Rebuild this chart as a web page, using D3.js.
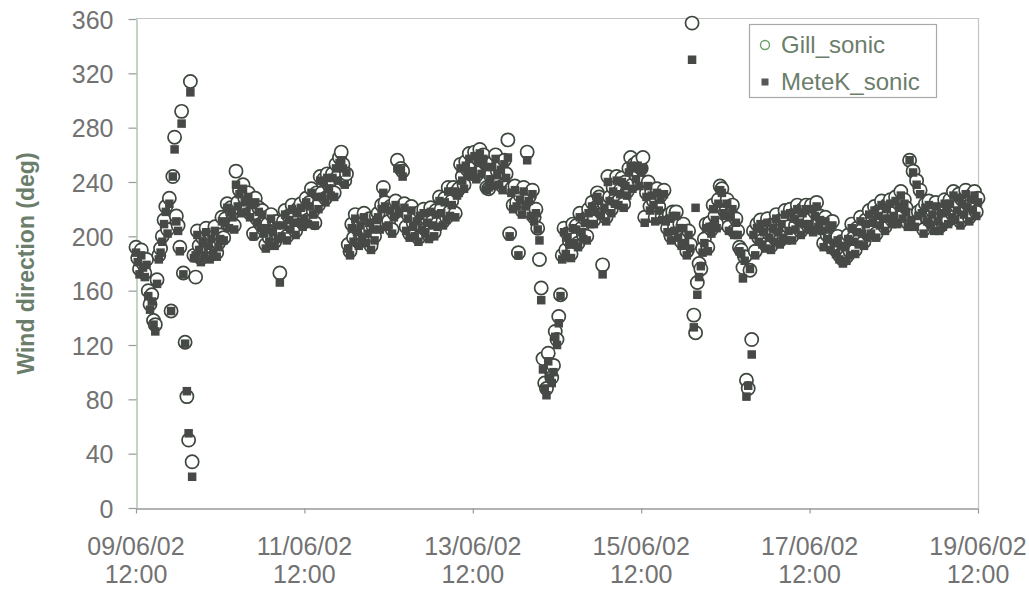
<!DOCTYPE html>
<html>
<head>
<meta charset="utf-8">
<script src="https://cdn.jsdelivr.net/npm/d3@7"></script>
<style>
  html, body { margin: 0; padding: 0; background: #fff; }
  svg { display: block; }
  text { font-family: "Liberation Sans", Arial, sans-serif; }
</style>
</head>
<body>
<svg id="chart" width="1029" height="589"></svg>
<script>
// Half-hourly wind direction from two sonic anemometers, 9-19 June 2002
const seriesNames = ["Gill_sonic", "MeteK_sonic"];
const startTime = "2002-06-09T12:00:00Z";
const stepMinutes = 30;

// one row per 12 hours (24 readings), last row closes at 19/06 12:00
const gillDir = [
  192,184,176,190,180,173,183,160,150,157,138,135,168,186,191,200,212,222,205,228,145,244,273,215,
  208,192,292,173,122,82,50,314,34,186,170,204,193,184,199,189,206,196,186,201,191,207,188,195,
  201,214,199,213,224,209,221,217,208,248,225,234,220,238,228,221,232,217,226,202,228,213,221,209,
  219,205,194,209,199,216,206,196,211,201,173,203,211,219,200,215,208,223,213,204,220,213,224,210,
  216,228,212,225,235,219,210,232,223,244,232,242,228,246,238,233,246,232,253,244,258,262,253,241,
  246,194,189,209,199,216,206,196,211,201,217,198,205,213,193,208,200,215,217,208,223,236,225,210,
  211,222,205,217,226,256,220,250,248,224,207,216,202,222,210,203,214,199,218,208,220,205,213,201,
  221,211,203,219,210,229,220,211,228,214,236,218,226,236,217,233,235,253,244,238,255,249,261,247,
  251,262,245,257,264,249,260,254,236,235,245,254,240,260,248,241,252,237,256,246,271,202,235,223,
  237,225,188,230,219,236,225,262,229,218,234,214,220,206,183,162,110,92,88,114,102,96,105,130,
  124,141,157,186,206,190,202,197,187,209,198,208,195,217,206,201,213,200,220,212,225,212,221,232,
  229,218,179,224,214,244,229,220,236,227,244,226,234,243,224,240,233,250,258,238,253,245,255,240,
  250,258,214,232,240,222,233,226,214,235,222,230,215,234,214,206,216,200,218,207,218,202,209,196,
  209,198,189,204,194,357,142,129,166,180,176,191,198,209,192,210,205,223,215,209,227,237,235,220,
  218,227,207,217,223,204,213,204,192,190,177,185,94,88,175,124,204,189,209,199,212,197,206,194,
  213,202,193,209,199,216,206,197,212,202,219,200,207,220,200,216,208,223,213,204,220,212,223,208,
  212,223,206,218,225,210,215,207,195,214,201,208,193,211,198,190,200,186,196,183,195,185,201,189,
  209,199,190,206,197,214,205,196,212,202,219,205,213,222,202,218,211,226,216,207,223,216,227,212,
  218,229,212,224,233,216,227,221,210,256,215,248,210,241,218,234,220,205,224,214,226,211,219,207,
  225,214,207,220,210,227,221,212,227,217,233,215,222,231,211,227,219,234,224,214,230,222,233,218,228
];

const metekDir = [
  188,181,172,186,177,170,179,156,146,152,135,130,165,183,188,196,209,218,202,224,145,244,264,211,
  204,189,283,172,121,86,55,306,23,184,186,201,190,181,196,186,203,193,183,198,188,204,185,192,
  198,211,197,210,221,206,218,214,205,238,222,231,217,235,225,218,229,214,223,200,225,210,218,206,
  216,202,191,206,196,213,203,193,208,198,166,200,208,216,197,212,205,220,210,201,217,210,221,207,
  213,225,209,222,232,216,208,229,220,241,229,239,225,243,235,230,243,229,250,241,254,256,250,238,
  247,191,186,206,196,213,203,193,208,198,214,195,202,210,190,205,197,212,214,205,220,232,222,207,
  208,219,202,214,223,250,217,249,244,221,204,213,199,219,207,200,211,196,215,205,217,202,210,198,
  218,208,200,216,207,226,217,208,225,212,233,215,223,233,214,230,232,250,241,235,252,246,257,244,
  248,259,242,254,261,246,257,251,234,236,242,251,237,257,245,238,249,234,253,243,258,200,232,220,
  234,222,186,227,216,233,222,256,226,215,231,211,217,205,197,153,102,88,83,108,96,92,100,126,
  120,136,156,183,203,187,199,194,184,206,195,205,192,214,203,198,210,197,217,209,222,209,218,229,
  226,215,172,221,211,240,226,217,233,224,241,223,231,240,221,237,230,247,252,235,250,242,252,237,
  247,250,210,229,237,219,230,223,211,232,219,227,212,231,211,203,213,197,215,204,215,199,206,193,
  206,195,186,201,191,330,133,221,157,170,178,188,195,206,189,207,202,220,212,206,224,234,232,217,
  215,224,204,214,220,201,210,201,189,187,169,182,82,90,176,113,201,186,206,196,209,194,203,191,
  210,199,190,206,196,213,203,194,209,199,216,197,204,217,197,213,205,220,210,201,217,209,220,205,
  209,220,203,215,222,207,212,204,192,211,198,205,190,208,195,187,197,183,193,180,192,182,198,186,
  206,196,187,203,194,211,202,193,209,199,216,202,210,219,199,215,208,223,213,204,220,213,224,209,
  215,226,209,221,230,213,224,218,207,256,212,247,207,238,215,231,217,202,221,211,223,208,216,204,
  222,211,204,217,207,224,218,209,224,214,230,212,219,228,208,224,216,231,221,211,227,219,230,215,225
];

const dirTicks = [0, 40, 80, 120, 160, 200, 240, 280, 320, 360];
const timeTicks = [
  "2002-06-09T12:00:00Z", "2002-06-11T12:00:00Z", "2002-06-13T12:00:00Z",
  "2002-06-15T12:00:00Z", "2002-06-17T12:00:00Z", "2002-06-19T12:00:00Z"
];
const yTitle = "Wind direction (deg)";

// ---- layout ----
const plot = { left: 136, right: 978, top: 19, bottom: 508 };

const svg = d3.select("#chart");

const t0 = new Date(startTime);
const timeAt = i => d3.utcMinute.offset(t0, i * stepMinutes);
const tickDates = timeTicks.map(s => new Date(s));

const x = d3.scaleUtc()
  .domain([tickDates[0], tickDates[tickDates.length - 1]])
  .range([plot.left, plot.right]);
const y = d3.scaleLinear().domain([0, 360]).range([plot.bottom, plot.top]);

const textColor = "#727272";
const greenText = "#6b7d6b";

// plot frame (top and right edges)
svg.append("path")
  .attr("d", `M${plot.left},${plot.top - 0.5}H${plot.right + 0.5}V${plot.bottom}`)
  .attr("fill", "none").attr("stroke", "#c4c4c4").attr("stroke-width", 1.2);

// y axis
const yAxis = svg.append("g")
  .attr("transform", `translate(${plot.left + 0.5},0)`)
  .call(d3.axisLeft(y).tickValues(dirTicks).tickSize(8).tickPadding(15).tickSizeOuter(0));
yAxis.select(".domain").attr("stroke", "#a9c2a9").attr("stroke-width", 1.4);
yAxis.selectAll(".tick line").attr("stroke", "#9a9a9a").attr("stroke-width", 1.2);
yAxis.selectAll(".tick text")
  .attr("fill", textColor).style("font-size", "25px")
  .attr("dy", "0.36em");

// x axis
const xAxis = svg.append("g")
  .attr("transform", `translate(0,${plot.bottom + 0.5})`)
  .call(d3.axisBottom(x).tickValues(tickDates).tickSize(5).tickSizeOuter(0).tickFormat(""));
xAxis.select(".domain").attr("stroke", "#9a9a9a").attr("stroke-width", 1.4);
xAxis.selectAll(".tick line").attr("stroke", "#9a9a9a").attr("stroke-width", 1.2);

const fmtDate = d3.utcFormat("%d/%m/%y");
const fmtTime = d3.utcFormat("%H:%M");
const xLab = svg.append("g").selectAll("text")
  .data(tickDates).join("text")
  .attr("text-anchor", "middle")
  .attr("fill", textColor)
  .style("font-size", "25px");
xLab.append("tspan").attr("x", d => x(d)).attr("y", 555).text(d => fmtDate(d));
xLab.append("tspan").attr("x", d => x(d)).attr("y", 583).text(d => fmtTime(d));

// y axis title
svg.append("text")
  .attr("transform", `translate(34,${(plot.top + plot.bottom) / 2}) rotate(-90)`)
  .attr("text-anchor", "middle")
  .attr("fill", greenText)
  .style("font-size", "23px").style("font-weight", "bold")
  .text(yTitle);

// markers: circles first, squares drawn over them
const gillPts = gillDir.map((v, i) => ({ t: timeAt(i), v }));
const metekPts = metekDir.map((v, i) => ({ t: timeAt(i), v }));

svg.append("g").selectAll("circle")
  .data(gillPts).join("circle")
  .attr("cx", d => x(d.t)).attr("cy", d => y(d.v)).attr("r", 6.6)
  .attr("fill", "#fff").attr("stroke", "#3d473d").attr("stroke-width", 1.7);

const sq = 8.5;
svg.append("g").selectAll("rect")
  .data(metekPts).join("rect")
  .attr("x", d => x(d.t) - sq / 2).attr("y", d => y(d.v) - sq / 2)
  .attr("width", sq).attr("height", sq)
  .attr("fill", "#474947");

// legend
const lg = svg.append("g");
lg.append("rect").attr("x", 749.5).attr("y", 24.5).attr("width", 187).attr("height", 73)
  .attr("fill", "#fff").attr("stroke", "#a8a8a8").attr("stroke-width", 1.2);
lg.append("circle").attr("cx", 765).attr("cy", 45).attr("r", 4.5)
  .attr("fill", "#fff").attr("stroke", "#6a9e6a").attr("stroke-width", 1.4);
lg.append("rect").attr("x", 761.5).attr("y", 78.5).attr("width", 7).attr("height", 7)
  .attr("fill", "#555855");
lg.selectAll("text.lbl").data(seriesNames).join("text")
  .attr("class", "lbl")
  .attr("x", 781).attr("y", (d, i) => 53 + i * 37)
  .attr("fill", greenText).style("font-size", "24px")
  .text(d => d);
</script>
</body>
</html>
